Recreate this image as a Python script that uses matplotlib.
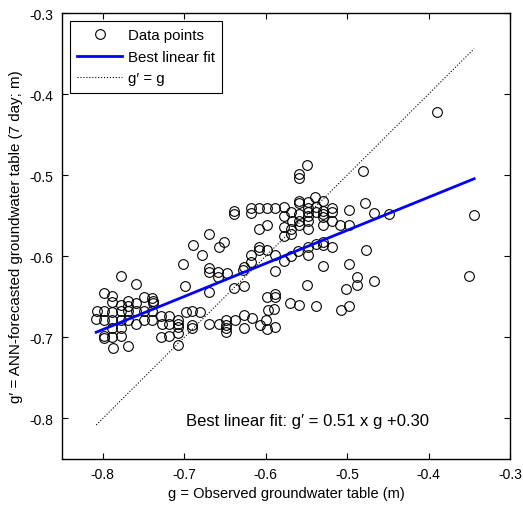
import numpy as np
import matplotlib
matplotlib.use("Agg")
import matplotlib.pyplot as plt

plt.rcParams["font.family"] = ["Liberation Sans", "DejaVu Sans"]
plt.rcParams["axes.unicode_minus"] = False

# observed (g) and forecasted (g') groundwater table
obs = [
    -0.390, -0.549, -0.559, -0.559, -0.480, -0.478, -0.467, -0.449, -0.344, -0.498,
    -0.498, -0.509, -0.477, -0.498, -0.488, -0.488, -0.467, -0.350, -0.501, -0.529,
    -0.508, -0.498, -0.538, -0.559, -0.570, -0.549, -0.588, -0.578, -0.569, -0.618,
    -0.618, -0.627, -0.627, -0.598, -0.588, -0.588, -0.597, -0.627, -0.617, -0.599,
    -0.607, -0.598, -0.588, -0.627,
    -0.618, -0.618, -0.608, -0.598, -0.588, -0.578, -0.578, -0.569, -0.559, -0.559,
    -0.548, -0.539, -0.529, -0.559, -0.548, -0.548, -0.548, -0.538, -0.538, -0.529,
    -0.529, -0.529, -0.519, -0.519, -0.567, -0.559, -0.559, -0.548, -0.548, -0.529,
    -0.519, -0.608, -0.598, -0.578, -0.569, -0.569, -0.578, -0.608, -0.608, -0.598,
    -0.588, -0.560, -0.548, -0.548, -0.538, -0.529, -0.529, -0.519,
    -0.639, -0.639, -0.670, -0.651, -0.657, -0.689, -0.678, -0.701, -0.670, -0.670,
    -0.659, -0.659, -0.647, -0.628, -0.699, -0.670, -0.639, -0.590, -0.690, -0.680,
    -0.698, -0.708, -0.708, -0.708, -0.690, -0.690, -0.670, -0.657, -0.649, -0.649,
    -0.649, -0.649, -0.638, -0.708, -0.778, -0.759,
    -0.798, -0.788, -0.788, -0.778, -0.769, -0.769, -0.759, -0.749, -0.739, -0.738,
    -0.738, -0.807, -0.808, -0.798, -0.798, -0.788, -0.788, -0.778, -0.778, -0.769,
    -0.769, -0.759, -0.759, -0.749, -0.749, -0.739, -0.739, -0.729, -0.727, -0.719,
    -0.718, -0.788, -0.778, -0.798, -0.798, -0.788, -0.778, -0.729, -0.719, -0.707,
    -0.787, -0.769,
]
pred = [
    -0.422, -0.487, -0.498, -0.504, -0.495, -0.534, -0.546, -0.548, -0.549, -0.543,
    -0.561, -0.562, -0.592, -0.610, -0.625, -0.635, -0.630, -0.624, -0.640, -0.612,
    -0.666, -0.661, -0.661, -0.660, -0.657, -0.636, -0.618, -0.606, -0.600, -0.607,
    -0.599, -0.613, -0.637, -0.650, -0.647, -0.650, -0.666, -0.673, -0.676, -0.679,
    -0.685, -0.690, -0.687, -0.688,
    -0.540, -0.546, -0.541, -0.540, -0.541, -0.539, -0.550, -0.545, -0.532, -0.534,
    -0.533, -0.527, -0.532, -0.548, -0.540, -0.545, -0.550, -0.539, -0.545, -0.544,
    -0.548, -0.551, -0.541, -0.545, -0.556, -0.556, -0.562, -0.557, -0.566, -0.562,
    -0.556, -0.566, -0.562, -0.564, -0.566, -0.572, -0.575, -0.588, -0.592, -0.592,
    -0.599, -0.594, -0.599, -0.589, -0.585, -0.582, -0.586, -0.589,
    -0.544, -0.548, -0.573, -0.582, -0.588, -0.586, -0.599, -0.610, -0.614, -0.619,
    -0.619, -0.625, -0.620, -0.617, -0.637, -0.644, -0.639, -0.665, -0.667, -0.669,
    -0.669, -0.679, -0.683, -0.687, -0.685, -0.688, -0.684, -0.684, -0.679, -0.685,
    -0.689, -0.693, -0.678, -0.709, -0.624, -0.634,
    -0.645, -0.649, -0.656, -0.660, -0.655, -0.661, -0.658, -0.650, -0.652, -0.655,
    -0.657, -0.667, -0.677, -0.668, -0.678, -0.669, -0.679, -0.668, -0.679, -0.668,
    -0.679, -0.668, -0.684, -0.668, -0.679, -0.668, -0.679, -0.674, -0.683, -0.674,
    -0.683, -0.688, -0.689, -0.698, -0.701, -0.699, -0.698, -0.699, -0.698, -0.694,
    -0.713, -0.711,
]

# linear fit drawn in the figure
fit_slope = 0.408
fit_intercept = -0.364

ticks = [-0.8, -0.7, -0.6, -0.5, -0.4, -0.3]

fig = plt.figure(figsize=(5.23, 5.10), dpi=100)
ax = fig.add_axes([0.1185, 0.098, 0.8566, 0.8745])

g = np.array(obs)
gp = np.array(pred)
xr = np.array([g.min(), g.max()])

ax.plot(g, gp, "o", mfc="none", mec="black", ms=7, mew=0.8,
        label="Data points", zorder=3)
ax.plot(xr, fit_slope * xr + fit_intercept, color="#0000ff", lw=2,
        label="Best linear fit", zorder=4)
ax.plot(xr, xr, ls=":", color="black", lw=0.8, label="g\u2032 = g", zorder=2)

ax.set_xlim(-0.85, -0.3)
ax.set_ylim(-0.85, -0.3)
ax.set_xticks(ticks)
ax.set_yticks(ticks)
ax.set_xticklabels([f"{t:.1f}" for t in ticks])
ax.set_yticklabels([f"{t:.1f}" for t in ticks])
ax.tick_params(direction="in", top=True, right=True, length=4, width=0.8,
               labelsize=10, pad=6)
for s in ax.spines.values():
    s.set_linewidth(1.0)

ax.set_xlabel("g = Observed groundwater table (m)", fontsize=10.5, labelpad=3)
ax.set_ylabel("g\u2032 = ANN-forecasted groundwater table (7 day; m)",
              fontsize=10.9, labelpad=5)

ax.text(-0.698, -0.802, "Best linear fit: g\u2032 = 0.51 x g +0.30",
        fontsize=12, ha="left", va="center")

leg = ax.legend(loc="upper left", fontsize=10.8, frameon=True, fancybox=False,
                edgecolor="black", framealpha=1, borderaxespad=0.53,
                handlelength=3.0, handletextpad=0.35, labelspacing=0.5,
                borderpad=0.5)
leg.get_frame().set_linewidth(0.8)

fig.savefig("out.png", dpi=100)
